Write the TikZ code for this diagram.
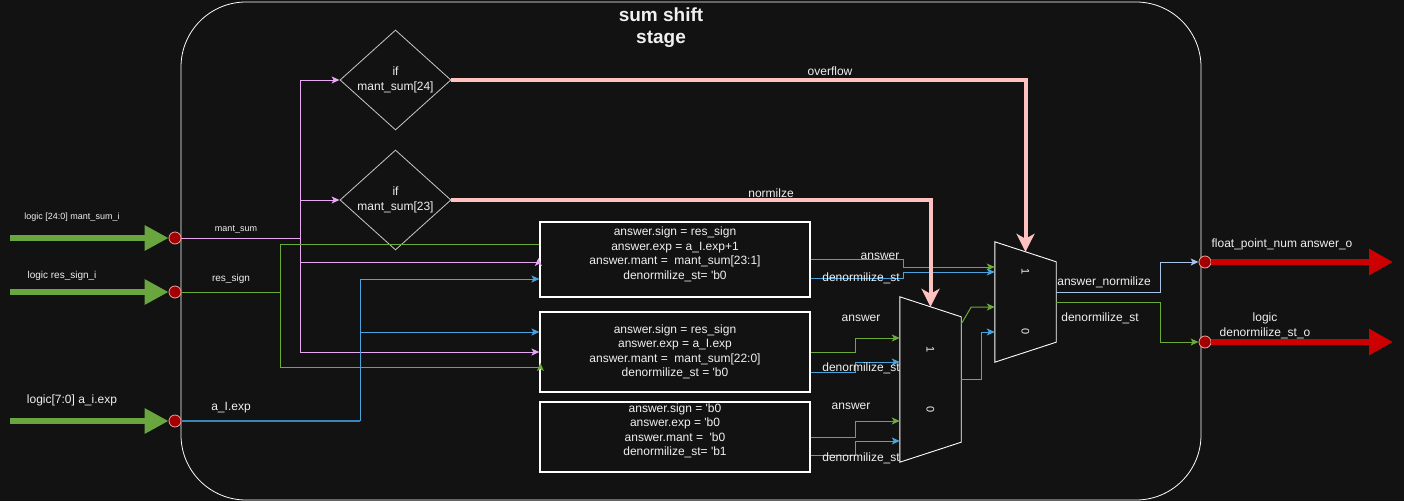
\documentclass[tikz,border=0pt]{standalone}
\usepackage{fontspec}
\setmainfont{Liberation Sans}
\usetikzlibrary{arrows.meta,shapes.geometric}
\definecolor{bgc}{HTML}{121212}
\definecolor{pinkw}{HTML}{E8A9F2}
\definecolor{greenw}{HTML}{6DAA3C}
\definecolor{bluew}{HTML}{4BA3DD}
\definecolor{blued}{HTML}{3A84B6}
\definecolor{bluel}{HTML}{A9C4EB}
\definecolor{salmon}{HTML}{FFC0C0}
\definecolor{greeni}{HTML}{6AA63F}
\definecolor{redo}{HTML}{CC0000}
\definecolor{portc}{HTML}{A20000}
\definecolor{portl}{HTML}{F4A0A0}
\definecolor{diam}{HTML}{C8C8C8}
\definecolor{txt}{HTML}{F0F0F0}
\newcommand{\tq}{\textquotesingle}

\begin{document}
\begin{tikzpicture}[x=1pt,y=-1pt,
  every node/.style={text=txt,font=\fontsize{12}{14.5}\selectfont},
  lbl/.style={inner sep=0pt},
  small/.style={inner sep=0pt,font=\fontsize{9}{11}\selectfont},
  mid/.style={inner sep=0pt,font=\fontsize{10}{12}\selectfont},
  port/.style={circle,fill=portc,draw=portl,line width=0.8pt,minimum size=12pt,inner sep=0pt},
  box/.style={draw=white,line width=1.2pt,minimum width=270pt,minimum height=#1,align=center,inner sep=0pt},
  cond/.style={diamond,aspect=1.2,draw=diam,line width=0.8pt,minimum width=111pt,minimum height=100pt,align=center,inner sep=0pt},
  muxbox/.style={minimum width=61pt,minimum height=#1,inner sep=0pt},
  muxline/.style={draw=white,line width=0.9pt},
  muxsel/.style={rotate=-90,inner sep=0pt,font=\fontsize{11}{11}\selectfont},
  arr/.style={-{Stealth[length=8pt,width=7pt,inset=2pt]}},
  pw/.style={draw=pinkw,line width=1pt},
  gw/.style={draw=greenw,line width=1pt},
  bw/.style={draw=bluew,line width=1pt},
  lbw/.style={draw=bluel,line width=1pt},
  big/.style={draw=salmon,line width=4pt,-{Stealth[length=18pt,width=18pt,inset=5pt]}},
  inarr/.style={draw=greeni,line width=6pt,-{Triangle[length=24pt,width=24pt]}},
  outarr/.style={draw=redo,line width=6pt,-{Triangle[length=24pt,width=25pt]}},
]
\fill[bgc] (0,0) rectangle (1404,501);
\useasboundingbox (0,0) rectangle (1404,501);

% stage frame
\node[draw=white,line width=0.8pt,rounded corners=65pt,minimum width=1020pt,minimum height=498pt] (stage) at (691,251) {};
\node[align=center,font=\fontsize{19}{22}\bfseries] (title) at (661,28) {sum shift\\stage};

% conditions
\node[cond] (ifA) at (395.5,80) {if\\mant\_sum[24]};
\node[cond] (ifB) at (395.5,200) {if\\mant\_sum[23]};

% assignment boxes
\node[box=75pt,text depth=13pt] (boxA) at (675,259.5) {answer.sign = res\_sign\\answer.exp = a\_I.exp+1\\answer.mant = \ mant\_sum[23:1]\\denormilize\_st= \tq b0};
\node[box=80pt] (boxB) at (675,352) {answer.sign = res\_sign\\answer.exp = a\_I.exp\\answer.mant = \ mant\_sum[22:0]\\denormilize\_st = \tq b0};
\node[box=70pt,text depth=15pt] (boxC) at (675,437) {answer.sign = \tq b0\\answer.exp = \tq b0\\answer.mant = \ \tq b0\\denormilize\_st= \tq b1};

% muxes
\node[muxbox=165pt] (muxA) at (930.5,379.5) {};
\draw[muxline] (muxA.north west) -- ([yshift=-20pt]muxA.north east) -- ([yshift=20pt]muxA.south east) -- (muxA.south west) -- cycle;
\node[muxsel] at ([yshift=29.5pt]muxA.center) {1};
\node[muxsel] at ([yshift=-30.5pt]muxA.center) {0};
\node[muxbox=120pt] (muxB) at (1025.5,302) {};
\draw[muxline] (muxB.north west) -- ([yshift=-20pt]muxB.north east) -- ([yshift=20pt]muxB.south east) -- (muxB.south west) -- cycle;
\node[muxsel] at ([yshift=30pt]muxB.center) {1};
\node[muxsel] at ([yshift=-30pt]muxB.center) {0};

% ports
\node[port] (pMant) at (175,238) {};
\node[port] (pSign) at (175,292) {};
\node[port] (pExp) at (175,421) {};
\node[port] (pAns) at (1205,262) {};
\node[port] (pDen) at (1205,342) {};
\coordinate (sMant) at (10,238);
\coordinate (sSign) at (10,292);
\coordinate (sExp) at (10,421);
\coordinate (eAns) at (1393,262);
\coordinate (eDen) at (1393,342);
\draw[inarr] (sMant) -- (pMant.west);
\draw[inarr] (sSign) -- (pSign.west);
\draw[inarr] (sExp) -- (pExp.west);
\draw[outarr] (pAns.east) -- (eAns);
\draw[outarr] (pDen.east) -- (eDen);

% mant_sum
\coordinate (jM) at (300,238);
\draw[pw] (pMant.east) -- (jM);
\draw[pw,arr] (jM) |- (ifA.west);
\draw[pw,arr] (jM) |- (ifB.west);
\draw[pw,arr] (jM) |- ([shift={(-1pt,-2.5pt)}]boxA.west) -- ++(0,-4);
\draw[pw,arr] (jM) |- (boxB.west);

% res_sign
\coordinate (jR) at (280,292);
\draw[gw] (pSign.east) -- (jR);
\draw[gw] (jR) |- ([yshift=15.5pt]boxA.west);
\draw[gw,arr] (jR) |- ([shift={(1pt,-15pt)}]boxB.west) -- ++(0,-4);

% a_I.exp
\coordinate (jE) at (360,421);
\draw[draw=blued,line width=1.6pt] (pExp.east) -- (jE);
\draw[bw,arr] (jE) |- ([yshift=-19.5pt]boxA.west);
\draw[bw,arr] (jE) |- ([yshift=20pt]boxB.west);

% box outputs
\draw[gw,arr] (boxA.east) -- ++(93,0) |- ([yshift=35pt]muxB.west);
\draw[bw,arr] ([yshift=-19pt]boxA.east) -- ++(93,0) |- ([yshift=30pt]muxB.west);
\draw[gw,arr] (boxB.east) -- ++(45,0) |- ([yshift=41.5pt]muxA.west);
\draw[bw,arr] ([yshift=-20pt]boxB.east) -- ++(45,0) |- ([yshift=17.5pt]muxA.west);
\draw[gw,arr] (boxC.east) -- ++(45,0) |- ([yshift=-41.5pt]muxA.west);
\draw[bw,arr] ([yshift=-18pt]boxC.east) -- ++(45,0) |- ([yshift=-61.5pt]muxA.west);

% mux outputs
\draw[gw,arr] ([yshift=55.5pt]muxA.east) -- ++(10,-17) -- ([yshift=-5pt]muxB.west);
\draw[bw,arr] (muxA.east) -- ++(20,0) |- ([yshift=-30pt]muxB.west);
\draw[lbw,arr] ([yshift=10pt]muxB.east) -- ++(104,0) |- (pAns.west);
\draw[gw,arr] (muxB.east) -- ++(104,0) |- (pDen.west);

% select lines
\draw[big] (ifA.east) -| ([yshift=-10pt]muxB.north);
\draw[big] (ifB.east) -| ([yshift=-10pt]muxA.north);

% labels
\node[small] (lMantI) at (72,217) {logic [24:0] mant\_sum\_i};
\node[mid] (lSignI) at (62,276) {logic res\_sign\_i};
\node[lbl] (lExpI) at (72,400) {logic[7:0] a\_i.exp};
\node[small] (lMant) at (236,229) {mant\_sum};
\node[mid] (lSign) at (231,279) {res\_sign};
\node[lbl] (lExp) at (231,408) {a\_I.exp};
\node[lbl] (lOver) at (830,71) {overflow};
\node[lbl] (lNorm) at (771,193) {normilze};
\node[lbl] (lAnsA) at (880,256) {answer};
\node[lbl] (lDenA) at (861,278) {denormilize\_st};
\node[lbl] (lAnsB) at (861,318) {answer};
\node[lbl] (lDenB) at (861,368) {denormilize\_st};
\node[lbl] (lAnsC) at (851,406) {answer};
\node[lbl] (lDenC) at (861,458) {denormilize\_st};
\node[lbl] (lAnsN) at (1104,282) {answer\_normilize};
\node[lbl] (lDenN) at (1100,318) {denormilize\_st};
\node[lbl] (lAnsO) at (1282,244) {float\_point\_num answer\_o};
\node[lbl,align=center] (lDenO) at (1265,326) {logic\\denormilize\_st\_o};
\end{tikzpicture}
\end{document}
